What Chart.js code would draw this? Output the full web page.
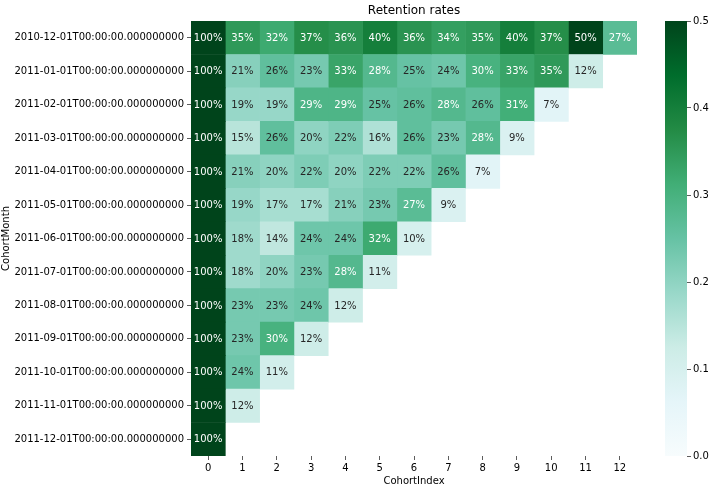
<!DOCTYPE html>
<html>
<head>
<meta charset="utf-8">
<script src="https://cdn.jsdelivr.net/npm/chart.js@4.4.0/dist/chart.umd.min.js"></script>
<style>
  body { margin: 0; background: #fff; }
  #wrap { position: relative; width: 718px; height: 491px; }
  #heat { position: absolute; left: 0; top: 0; }
  #cbar { position: absolute; left: 600px; top: 0; }
</style>
</head>
<body>
<div id="wrap">
  <canvas id="heat" width="718" height="491"></canvas>
  <canvas id="cbar" width="118" height="491"></canvas>
</div>
<script>
// cohort rows (first month of each cohort)
var months = [
    '2010-12-01T00:00:00.000000000', '2011-01-01T00:00:00.000000000',
    '2011-02-01T00:00:00.000000000', '2011-03-01T00:00:00.000000000',
    '2011-04-01T00:00:00.000000000', '2011-05-01T00:00:00.000000000',
    '2011-06-01T00:00:00.000000000', '2011-07-01T00:00:00.000000000',
    '2011-08-01T00:00:00.000000000', '2011-09-01T00:00:00.000000000',
    '2011-10-01T00:00:00.000000000', '2011-11-01T00:00:00.000000000',
    '2011-12-01T00:00:00.000000000'
];
var cohortIndex = ['0', '1', '2', '3', '4', '5', '6', '7', '8', '9', '10', '11', '12'];
// retention per cohort row, by cohort index
var retention = [
    [1.00, 0.35, 0.32, 0.37, 0.36, 0.40, 0.36, 0.34, 0.35, 0.40, 0.37, 0.50, 0.27],
    [1.00, 0.21, 0.26, 0.23, 0.33, 0.28, 0.25, 0.24, 0.30, 0.33, 0.35, 0.12],
    [1.00, 0.19, 0.19, 0.29, 0.29, 0.25, 0.26, 0.28, 0.26, 0.31, 0.07],
    [1.00, 0.15, 0.26, 0.20, 0.22, 0.16, 0.26, 0.23, 0.28, 0.09],
    [1.00, 0.21, 0.20, 0.22, 0.20, 0.22, 0.22, 0.26, 0.07],
    [1.00, 0.19, 0.17, 0.17, 0.21, 0.23, 0.27, 0.09],
    [1.00, 0.18, 0.14, 0.24, 0.24, 0.32, 0.10],
    [1.00, 0.18, 0.20, 0.23, 0.28, 0.11],
    [1.00, 0.23, 0.23, 0.24, 0.12],
    [1.00, 0.23, 0.30, 0.12],
    [1.00, 0.24, 0.11],
    [1.00, 0.12],
    [1.00]
];
var colorbarTicks = [0, 0.1, 0.2, 0.3, 0.4, 0.5];

// BuGn colormap, vmin 0 / vmax 0.5
var buGn = ['#f7fcfd', '#e5f5f9', '#ccece6', '#99d8c9', '#66c2a4', '#41ae76', '#238b45', '#006d2c', '#00441b'];
var vmax = 0.5;

function hexRgb(h) {
    return [parseInt(h.substr(1, 2), 16), parseInt(h.substr(3, 2), 16), parseInt(h.substr(5, 2), 16)];
}
function cmap(v) {
    var t = Math.max(0, Math.min(1, v / vmax)) * (buGn.length - 1);
    var i = Math.min(Math.floor(t), buGn.length - 2);
    var f = t - i;
    var a = hexRgb(buGn[i]), b = hexRgb(buGn[i + 1]);
    var c = a.map(function (x, k) { return Math.round(x + (b[k] - x) * f); });
    return 'rgb(' + c.join(',') + ')';
}

var font = "'DejaVu Sans', sans-serif";

var cellLabels = {
    id: 'cellLabels',
    afterDatasetsDraw: function (chart) {
        var ctx = chart.ctx;
        ctx.save();
        ctx.font = '10px ' + font;
        ctx.textAlign = 'center';
        ctx.textBaseline = 'middle';
        chart.data.datasets.forEach(function (ds, c) {
            var meta = chart.getDatasetMeta(c);
            meta.data.forEach(function (el, r) {
                var v = retention[r][c];
                if (v == null) return;
                var p = el.getProps(['x', 'y', 'base'], true);
                ctx.fillStyle = v > 0.265 ? '#ffffff' : '#262626';
                ctx.fillText(Math.round(v * 100) + '%', (p.x + p.base) / 2, p.y + 0.5);
            });
        });
        ctx.restore();
    }
};

var datasets = cohortIndex.map(function (ci, c) {
    return {
        label: ci,
        data: months.map(function (m, r) { return retention[r][c] != null ? [c, c + 1] : null; }),
        backgroundColor: months.map(function (m, r) { return retention[r][c] != null ? cmap(retention[r][c]) : 'rgba(0,0,0,0)'; }),
        borderWidth: 0,
        borderSkipped: false,
        grouped: false,
        categoryPercentage: 1,
        barPercentage: 1
    };
});

var ctxHeat = document.getElementById('heat').getContext('2d');
var heatChart = new Chart(ctxHeat, {
    type: 'bar',
    data: { labels: months, datasets: datasets },
    options: {
        indexAxis: 'y',
        responsive: false,
        animation: false,
        layout: { padding: { left: 0, right: 81, top: 0, bottom: 0 } },
        scales: {
            x: {
                type: 'linear',
                min: 0,
                max: cohortIndex.length,
                afterBuildTicks: function (scale) {
                    scale.ticks = cohortIndex.map(function (c, i) { return { value: i + 0.5 }; });
                },
                afterFit: function (scale) { scale.height = 35; },
                ticks: {
                    autoSkip: false, maxRotation: 0, padding: 2,
                    color: '#000', font: { family: font, size: 10 },
                    callback: function (v, i) { return cohortIndex[i]; }
                },
                grid: { drawOnChartArea: false, tickLength: 4, color: '#333', lineWidth: 0.8 },
                border: { display: false },
                title: { display: true, text: 'CohortIndex', color: '#000', font: { family: font, size: 10 }, padding: { top: 0, bottom: 4 } }
            },
            y: {
                afterFit: function (scale) { scale.width = 191; },
                ticks: { autoSkip: false, padding: 3, color: '#000', font: { family: font, size: 10 } },
                grid: { offset: false, drawOnChartArea: false, tickLength: 4, color: '#333', lineWidth: 0.8 },
                border: { display: false },
                title: { display: true, text: 'CohortMonth', color: '#000', font: { family: font, size: 10 }, padding: { top: 0, bottom: 0 } }
            }
        },
        plugins: {
            legend: { display: false },
            tooltip: { enabled: false },
            title: {
                display: true, fullSize: false, text: 'Retention rates', color: '#000',
                font: { family: font, size: 12, weight: 'normal' },
                padding: { top: 4, bottom: 2.6 }
            }
        }
    },
    plugins: [cellLabels]
});

var ctxBar = document.getElementById('cbar').getContext('2d');
var cbarChart = new Chart(ctxBar, {
    type: 'bar',
    data: {
        labels: [''],
        datasets: [{
            data: [[0, vmax]],
            backgroundColor: function (c) {
                var area = c.chart.chartArea;
                if (!area) return buGn[4];
                var g = c.chart.ctx.createLinearGradient(0, area.bottom, 0, area.top);
                buGn.forEach(function (col, i) { g.addColorStop(i / (buGn.length - 1), col); });
                return g;
            },
            borderWidth: 0,
            categoryPercentage: 1,
            barPercentage: 1
        }]
    },
    options: {
        responsive: false,
        animation: false,
        layout: { padding: { left: 65, right: 0, top: 21, bottom: 35 } },
        scales: {
            x: { display: false },
            y: {
                position: 'right',
                min: 0,
                max: vmax,
                afterBuildTicks: function (scale) {
                    scale.ticks = colorbarTicks.map(function (v) { return { value: v }; });
                },
                afterFit: function (scale) { scale.width = 31; },
                ticks: {
                    padding: 2, color: '#000', font: { family: font, size: 10 },
                    callback: function (v) { return v.toFixed(1); }
                },
                grid: { drawOnChartArea: false, tickLength: 4, color: '#333', lineWidth: 0.8 },
                border: { display: false }
            }
        },
        plugins: { legend: { display: false }, tooltip: { enabled: false } }
    }
});
</script>
</body>
</html>
